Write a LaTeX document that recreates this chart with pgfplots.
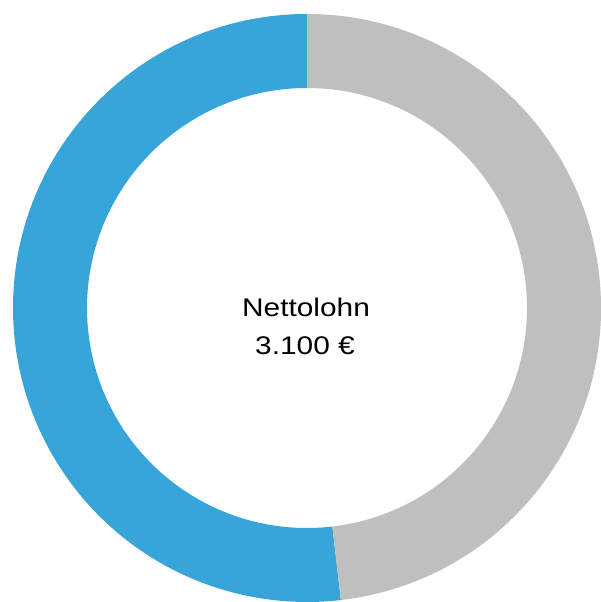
\documentclass[border=0pt]{standalone}
\usepackage{fontspec}
\setmainfont{Liberation Sans}
\usepackage{pgfplots}
\pgfplotsset{compat=1.18}
\definecolor{netblue}{RGB}{55,164,218}
\definecolor{restgray}{RGB}{191,191,191}
% values
\def\vNet{3100}
\def\vRest{2880}
\pgfmathsetmacro\aFrac{\vNet/(\vNet+\vRest)}
\pgfmathsetmacro\aEnd{90+360*\aFrac}
\begin{document}
\begin{tikzpicture}
\begin{axis}[width=601pt,height=602pt,scale only axis,hide axis,
  xmin=0,xmax=601,ymin=0,ymax=602,clip=false]
\fill[netblue] (axis cs:307,294) ++(90:294pt) arc[start angle=90,end angle=\aEnd,radius=294pt]
  -- ++(\aEnd:-74pt) arc[start angle=\aEnd,end angle=90,radius=220pt] -- cycle;
\fill[restgray] (axis cs:307,294) ++(\aEnd:294pt) arc[start angle=\aEnd,end angle=450,radius=294pt]
  -- ++(450:-74pt) arc[start angle=450,end angle=\aEnd,radius=220pt] -- cycle;
\node[anchor=base,xscale=1.17,font=\fontsize{25.5}{31}\selectfont] at (axis cs:306,285) {Nettolohn};
\node[anchor=base,xscale=1.17,font=\fontsize{25.5}{31}\selectfont] at (axis cs:305,247) {3.100 €};
\end{axis}
\pgfresetboundingbox
\path[use as bounding box] (0,0) rectangle (601pt,602pt);
\end{tikzpicture}
\end{document}
